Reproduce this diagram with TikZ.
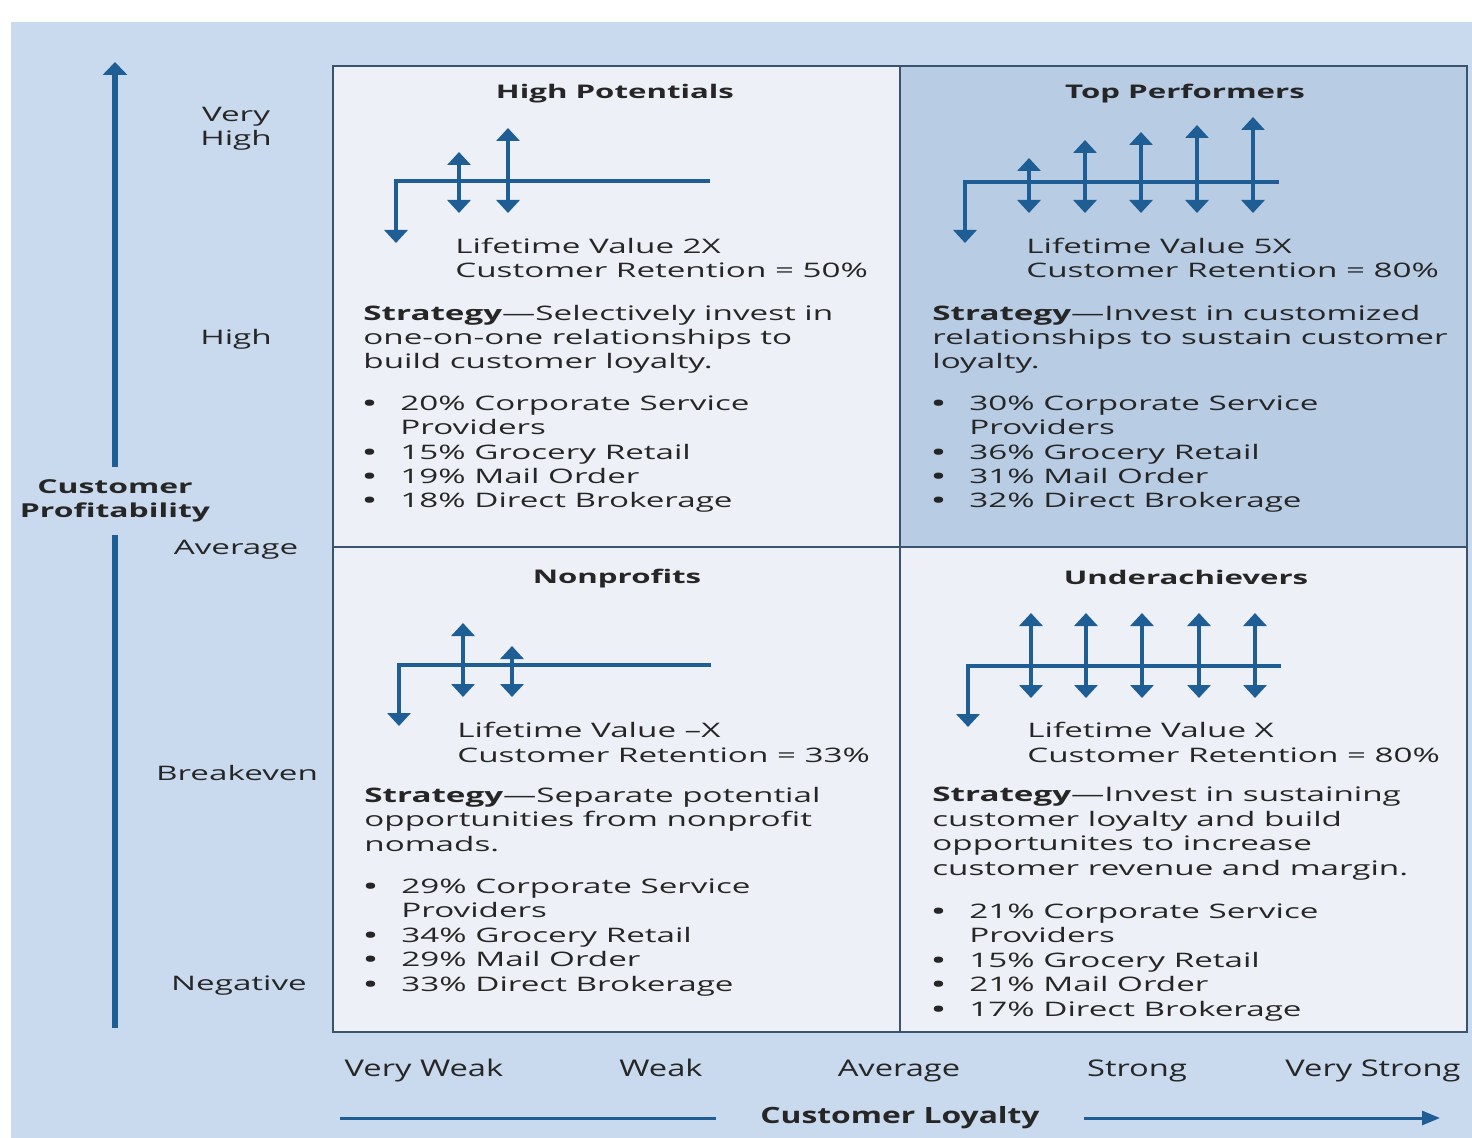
\documentclass[tikz,border=0pt]{standalone}
\usepackage{fontspec}
\setmainfont{Open Sans}
\newfontfamily\qfont[FakeStretch=1.66]{Open Sans}
\newfontfamily\axfont[FakeStretch=1.42]{Open Sans}
\usetikzlibrary{arrows.meta}

\definecolor{pagebg}{HTML}{C9DAEE}
\definecolor{quadlight}{HTML}{EDF1F7}
\definecolor{quaddark}{HTML}{B8CCE4}
\definecolor{cfblue}{HTML}{1E5E94}
\definecolor{gridline}{HTML}{3A5470}
\definecolor{ink}{HTML}{262626}

\newlength{\bulw}
\setlength{\bulw}{18.5pt}
\newcommand{\bul}{\makebox[\bulw][l]{\textbf{\textbullet}}}

\tikzset{
  flow/.style={draw=cfblue, line width=2pt},
  cash/.style={flow, {Triangle[width=11.5pt,length=6.5pt]}-{Triangle[width=11.5pt,length=6.5pt]}},
  outflow/.style={flow, -{Triangle[width=11.5pt,length=6.5pt]}},
  % multi-line nodes sit on the baseline of their last line
  body/.style={anchor=base west, inner sep=0pt, align=left, text=ink,
    font=\qfont\fontsize{10}{12.2}\selectfont},
  quadtitle/.style={anchor=base, inner sep=0pt, text=ink,
    font=\qfont\bfseries\fontsize{9.4}{12}\selectfont},
  level/.style={anchor=base, inner sep=0pt, align=center, text=ink,
    font=\qfont\fontsize{10}{12}\selectfont},
  loyalty/.style={anchor=base, inner sep=0pt, text=ink,
    font=\axfont\fontsize{11.5}{13}\selectfont}
}

\begin{document}
\begin{tikzpicture}[x=0.5pt, y=-0.5pt]
        \useasboundingbox (0,0) rectangle (1472,1138);
        % Page
        \fill [white] (0,0) rectangle (1472,1138);
        \fill [pagebg] (11,22) rectangle (1472,1138);
        % Quadrants
        \fill [quadlight] (333,66) rectangle (1467,1032);
        \fill [quaddark] (900,66) rectangle (1467,547);
        \draw [gridline, line width=1pt] (333,66) rectangle (1467,1032);
        \draw [gridline, line width=1pt] (900,66) -- (900,1032);
        \draw [gridline, line width=1pt] (333,547) -- (1467,547);

        % Profitability axis
        \coordinate (ytop) at (115,62);
        \coordinate (ybot) at (115,1028);
        \node [inner sep=0pt, minimum height=33.5pt, align=center, text=ink,
               font=\qfont\bfseries\fontsize{9.6}{12}\selectfont] (profit) at (115,501) {Customer\\Profitability};
        \draw [cfblue, line width=2.8pt, -{Triangle[width=12pt,length=6.5pt]}] (profit.north) -- (ytop);
        \draw [cfblue, line width=2.8pt] (profit.south) -- (ybot);
        \node [level] (veryhigh) at (236,146) {Very\\High};
        \node [level] (high) at (236,345) {High};
        \node [level] (avgprofit) at (236,555) {Average};
        \node [level] (breakeven) at (237,780) {Breakeven};
        \node [level] (negative) at (239,990) {Negative};

        % Loyalty axis
        \node [loyalty] (veryweak) at (424,1076) {Very Weak};
        \node [loyalty] (weak) at (661,1076) {Weak};
        \node [loyalty] (avgloyal) at (899,1076) {Average};
        \node [loyalty] (strong) at (1137,1076) {Strong};
        \node [loyalty] (verystrong) at (1373,1076) {Very Strong};
        \coordinate (xleft) at (340,1118);
        \coordinate (xright) at (1440,1118);
        \node [anchor=center, inner xsep=22pt, inner ysep=0pt, text=ink,
               font=\axfont\bfseries\fontsize{11.2}{13}\selectfont] (loyal) at (900,1118) {Customer Loyalty};
        \draw [cfblue, line width=1.5pt] (xleft) -- (loyal.west);
        \draw [cfblue, line width=1.5pt, -{Triangle[width=7pt,length=9pt]}] (loyal.east) -- (xright);

        % High Potentials
        \node [quadtitle] (hp-title) at (615,99) {High Potentials};
        \draw [outflow] (710,181) -| (396,243);
        \foreach \x/\t in {459/152, 508/128}
                \draw [cash] (\x,213) -- (\x,\t);
        \node [body] (hp-value) at (455,278) {Lifetime Value 2X\\Customer Retention = 50\%};
        \node [body] (hp-strat) at (363,369) {\textbf{Strategy}—Selectively invest in\\one-on-one relationships to\\build customer loyalty.};
        \node [body] (hp-list) at (363,508) {\bul 20\% Corporate Service\\\hspace*{\bulw}Providers\\\bul 15\% Grocery Retail\\\bul 19\% Mail Order\\\bul 18\% Direct Brokerage};

        % Top Performers
        \node [quadtitle] (tp-title) at (1185,99) {Top Performers};
        \draw [outflow] (1279,182) -| (965,243);
        \foreach \x/\t in {1029/158, 1085/140, 1141/132, 1197/125, 1253/117}
                \draw [cash] (\x,213) -- (\x,\t);
        \node [body] (tp-value) at (1026,278) {Lifetime Value 5X\\Customer Retention = 80\%};
        \node [body] (tp-strat) at (932,369) {\textbf{Strategy}—Invest in customized\\relationships to sustain customer\\loyalty.};
        \node [body] (tp-list) at (932,508) {\bul 30\% Corporate Service\\\hspace*{\bulw}Providers\\\bul 36\% Grocery Retail\\\bul 31\% Mail Order\\\bul 32\% Direct Brokerage};

        % Nonprofits
        \node [quadtitle] (np-title) at (617,583) {Nonprofits};
        \draw [outflow] (711,665) -| (399,726);
        \foreach \x/\t in {463/623, 512/646}
                \draw [cash] (\x,697) -- (\x,\t);
        \node [body] (np-value) at (457,762) {Lifetime Value –X\\Customer Retention = 33\%};
        \node [body] (np-strat) at (364,851) {\textbf{Strategy}—Separate potential\\opportunities from nonprofit\\nomads.};
        \node [body] (np-list) at (364,991) {\bul 29\% Corporate Service\\\hspace*{\bulw}Providers\\\bul 34\% Grocery Retail\\\bul 29\% Mail Order\\\bul 33\% Direct Brokerage};

        % Underachievers
        \node [quadtitle] (ua-title) at (1186,584) {Underachievers};
        \draw [outflow] (1281,666) -| (968,727);
        \foreach \x in {1031, 1086, 1142, 1199, 1255}
                \draw [cash] (\x,698) -- (\x,613);
        \node [body] (ua-value) at (1027,762) {Lifetime Value X\\Customer Retention = 80\%};
        \node [body] (ua-strat) at (932,875) {\textbf{Strategy}—Invest in sustaining\\customer loyalty and build\\opportunites to increase\\customer revenue and margin.};
        \node [body] (ua-list) at (932,1016) {\bul 21\% Corporate Service\\\hspace*{\bulw}Providers\\\bul 15\% Grocery Retail\\\bul 21\% Mail Order\\\bul 17\% Direct Brokerage};
\end{tikzpicture}
\end{document}
